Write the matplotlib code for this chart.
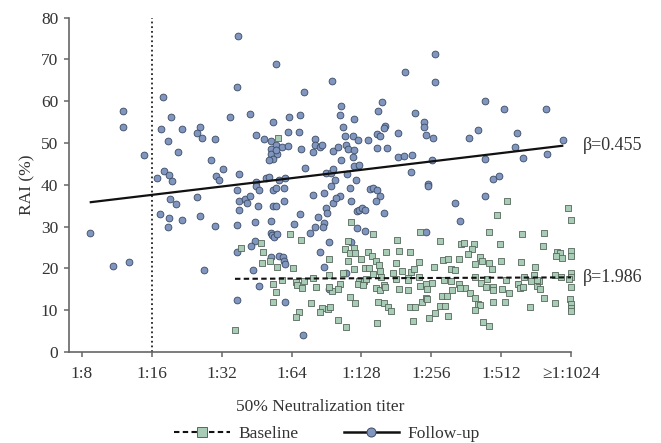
import matplotlib
matplotlib.use("Agg")
import matplotlib.pyplot as plt
from matplotlib.lines import Line2D
import numpy as np

plt.rcParams['font.family'] = ['Liberation Serif', 'DejaVu Serif']

# x values are log2 of the reciprocal titer (3 -> 1:8, 10 -> >=1:1024)
tick_pos = [3, 4, 5, 6, 7, 8, 9, 10]
tick_labels = ['1:8', '1:16', '1:32', '1:64', '1:128', '1:256', '1:512', '\u22651:1024']

fu_x = [3.11, 3.58, 3.58, 3.45, 3.67, 3.89, 4.16, 4.27, 4.13, 4.23, 4.43, 4.69, 4.65, 4.72, 4.37,
        4.18, 4.08, 4.25, 4.29, 4.26, 4.34, 4.65, 4.11, 4.24, 4.43, 4.69, 4.23, 4.74,
        5.24, 5.77, 5.22, 6.58, 6.18, 5.12, 5.40, 5.74, 5.97, 6.12, 4.91, 5.49, 5.61, 5.70,
        5.95, 6.11, 6.33, 6.33, 6.41, 6.43, 6.31, 6.59, 5.78, 5.87, 5.95, 6.13, 5.71, 5.70,
        5.79, 5.77, 5.73, 5.68, 4.85, 5.02, 4.92, 4.96, 5.25, 5.49, 5.63, 5.68, 5.82, 5.91,
        6.19, 6.49, 6.57, 6.60,
        5.49, 5.54, 5.22, 5.73, 5.78, 5.89, 5.25, 5.33, 5.41, 5.36, 5.52, 5.73, 5.77, 5.89,
        5.25, 4.91, 5.22, 5.47, 5.70, 6.04, 6.12, 6.31, 6.47, 6.56, 6.60, 6.49, 6.51, 6.38,
        6.47, 6.45, 6.33, 6.27, 5.70, 5.72, 5.75, 5.79, 6.53, 5.48, 5.42, 5.22, 5.45, 5.70,
        5.82, 5.88, 5.89, 5.91, 6.40, 6.46, 5.54, 6.54, 5.22, 5.90, 6.16,
        8.05, 7.63, 8.06, 7.29, 7.24, 6.71, 6.70, 6.90, 7.76, 7.89, 7.90, 6.74, 7.34, 7.33,
        7.53, 6.76, 6.88, 6.95, 7.10, 7.23, 7.26, 7.92, 8.02, 6.66, 6.78, 6.81, 6.89, 6.88,
        7.23, 7.36, 7.52, 7.61, 7.73, 8.01, 6.71, 6.90, 6.97, 7.71, 6.80, 6.62, 6.92, 7.96,
        6.83, 7.12, 7.17, 7.22, 7.27, 7.21, 6.70, 6.63, 6.85, 6.93, 6.97, 7.01, 7.05, 7.33,
        7.95, 8.34, 8.41, 6.93, 7.05, 7.92, 6.85, 6.78,
        8.77, 9.04, 9.64, 8.67, 8.54, 9.22, 9.89, 9.20, 8.77, 9.31, 9.65, 8.89, 8.97, 8.77]
fu_rai = [28.5, 57.7, 53.7, 20.6, 21.5, 47.1, 60.9, 56.3, 53.3, 50.5, 53.3, 53.7, 52.3, 51.2, 47.8,
          43.4, 41.5, 42.3, 41.0, 36.7, 35.3, 37.0, 32.9, 32.1, 31.6, 32.6, 30.0, 19.5,
          75.5, 68.9, 63.4, 64.8, 62.3, 56.3, 56.9, 55.1, 56.3, 56.7, 50.9, 51.9, 50.9, 50.4,
          52.5, 52.5, 51.0, 49.6, 49.0, 49.5, 47.9, 48.0, 49.5, 49.0, 49.3, 48.6, 48.5, 47.4,
          47.3, 48.2, 46.2, 45.8, 46.0, 43.8, 42.0, 41.1, 42.5, 40.7, 41.6, 41.9, 41.1, 41.6,
          44.0, 42.7, 42.9, 43.7,
          39.7, 38.8, 38.8, 38.8, 39.2, 39.2, 36.1, 36.6, 37.3, 35.6, 34.8, 35.0, 35.0, 36.1,
          34.0, 30.2, 30.3, 31.1, 31.4, 30.7, 32.9, 37.6, 38.1, 39.7, 35.7, 34.5, 33.3, 32.4,
          30.9, 30.0, 29.9, 28.5, 28.5, 28.1, 27.4, 28.2, 26.3, 26.6, 25.4, 23.8, 19.5, 22.8,
          22.9, 22.7, 21.8, 21.1, 23.8, 20.3, 15.7, 15.1, 12.5, 11.9, 4.1,
          71.3, 66.9, 64.5, 59.9, 57.7, 58.9, 56.7, 55.7, 57.2, 54.9, 53.8, 53.7, 54.1, 53.5,
          52.4, 51.7, 51.6, 50.6, 50.6, 52.1, 51.7, 52.0, 51.2, 49.1, 49.6, 48.6, 48.3, 46.7,
          48.9, 48.9, 46.6, 46.9, 47.2, 45.9, 45.8, 44.5, 44.8, 43.1, 42.5, 41.1, 41.2, 40.2,
          39.3, 39.0, 39.2, 38.8, 37.4, 36.1, 37.3, 36.8, 36.0, 33.8, 34.0, 34.4, 34.0, 33.3,
          39.7, 35.6, 31.4, 29.7, 28.9, 28.7, 26.4, 19.0,
          60.0, 58.2, 58.1, 53.0, 51.3, 52.4, 50.8, 49.0, 46.2, 46.3, 47.4, 41.4, 42.2, 37.2]

bl_x = [5.80,
        5.98, 6.13, 5.56, 5.27, 5.59, 5.69, 5.57, 5.79, 6.02, 6.53, 6.53, 6.30, 5.87, 5.74,
        6.07, 6.18, 6.08, 6.15, 6.35, 5.77, 6.58, 6.54, 5.74, 6.28, 6.10, 6.06, 6.43, 6.41,
        6.52, 6.55, 5.19,
        6.85, 7.17, 7.84, 7.51, 8.13, 6.81, 6.77, 6.89, 6.83, 6.91, 7.09, 7.15, 7.00, 6.81,
        7.21, 7.35, 7.54, 7.70, 7.50, 7.83, 8.17, 8.24, 8.39, 6.90, 7.05, 7.11, 7.25, 7.27,
        7.17, 7.28, 7.45, 7.58, 7.71, 7.75, 8.04, 7.83, 7.66, 8.28, 8.34, 6.74, 6.96, 7.03,
        6.95, 7.02, 7.07, 6.69, 6.66, 7.21, 7.26, 7.32, 7.34, 7.49, 7.66, 7.66, 7.54, 7.84,
        7.93, 8.01, 7.94, 8.18, 8.28, 8.16, 8.23, 8.30, 8.39, 6.84, 6.91, 7.24, 7.32, 7.38,
        7.42, 7.70, 7.76, 7.86, 7.93, 7.94, 8.13, 8.20, 8.06, 7.97, 8.24, 6.67, 6.78, 7.23,
        7.74,
        9.09, 9.96, 10.00, 8.94, 8.83, 9.30, 9.62, 8.43, 8.47, 8.61, 8.58, 8.98, 9.60, 8.52,
        8.70, 8.72, 8.82, 8.62, 8.87, 9.00, 9.29, 9.49, 9.80, 9.84, 9.78, 9.87, 10.00, 10.00,
        8.62, 8.80, 9.07, 9.33, 9.47, 9.77, 9.85, 10.00, 10.00, 9.97, 8.48, 8.41, 8.55, 8.71,
        8.79, 8.89, 8.89, 9.01, 9.11, 9.24, 9.27, 9.32, 9.43, 9.52, 9.56, 9.54, 9.51, 10.00,
        8.63, 8.67, 8.70, 8.63, 8.89, 9.06, 9.41, 9.62, 9.77, 9.99, 10.00, 10.00, 10.00, 8.74,
        8.83]
bl_rai = [51.3,
          28.3, 26.7, 26.1, 24.8, 23.8, 21.8, 21.4, 20.3, 20.2, 22.2, 18.3, 17.8, 17.2, 16.3,
          16.7, 16.9, 16.0, 15.2, 15.5, 14.4, 14.6, 15.6, 12.0, 11.6, 9.6, 8.4, 10.5, 9.6,
          10.4, 10.8, 5.3,
          31.1, 28.2, 28.6, 26.8, 26.5, 26.6, 24.7, 24.9, 23.7, 23.7, 24.0, 23.0, 22.2, 21.7,
          21.8, 23.8, 24.2, 23.8, 21.4, 21.6, 22.0, 22.3, 22.3, 19.8, 20.1, 20.1, 20.7, 19.4,
          18.7, 17.9, 19.0, 19.4, 19.1, 19.8, 20.3, 17.9, 17.8, 19.9, 19.5, 19.0, 17.1, 17.0,
          16.2, 16.1, 17.4, 16.2, 15.1, 15.4, 14.8, 16.0, 15.6, 17.4, 17.2, 14.9, 15.1, 15.9,
          16.3, 16.5, 15.1, 17.2, 16.9, 13.5, 13.3, 14.9, 16.3, 13.2, 11.6, 12.0, 11.6, 10.8,
          9.8, 10.7, 10.8, 11.9, 12.9, 12.6, 10.9, 10.9, 9.3, 8.2, 8.6, 7.7, 5.9, 6.9,
          7.3,
          36.2, 34.4, 31.6, 32.7, 28.6, 28.2, 28.5, 25.8, 26.0, 25.8, 24.6, 25.9, 25.3, 23.4,
          22.7, 21.7, 21.2, 21.0, 19.9, 21.8, 21.5, 20.3, 23.9, 23.7, 22.9, 22.4, 24.2, 22.9,
          17.9, 17.5, 17.3, 17.9, 18.3, 18.5, 17.9, 19.0, 17.9, 17.4, 15.4, 15.4, 14.0, 16.5,
          15.5, 15.5, 14.8, 15.1, 14.2, 16.3, 15.4, 15.6, 16.9, 15.9, 15.1, 17.0, 17.3, 15.5,
          12.8, 11.5, 11.2, 10.1, 11.9, 11.9, 10.8, 12.8, 11.6, 12.7, 11.5, 10.6, 9.7, 7.2,
          6.3]

# fitted lines (RAI at the lowest and highest titer of each group)
fu_fit = [35.8, 49.35]
bl_fit = [17.5, 17.85]
fu_beta = '\u03b2=0.455'
bl_beta = '\u03b2=1.986'
threshold = 4  # 1:16

text_col = '#333333'
fu_face, fu_edge = '#8196be', '#3b4a63'
bl_face, bl_edge = '#a9ccb6', '#56685c'

fig = plt.figure(figsize=(6.61, 4.43), dpi=100)
ax = fig.add_axes([69/661, 1-352/443, 502/661, 334.5/443])

ax.scatter(fu_x, fu_rai, s=24, marker='o', facecolor=fu_face, edgecolor=fu_edge,
           linewidths=0.6, zorder=3, clip_on=False)
ax.scatter(bl_x, bl_rai, s=19, marker='s', facecolor=bl_face, edgecolor=bl_edge,
           linewidths=0.6, zorder=3, clip_on=False)

ax.plot([min(fu_x), max(fu_x)], fu_fit, color='#111111', lw=1.6, zorder=4,
        solid_capstyle='butt')
ax.plot([min(bl_x), max(bl_x)], bl_fit, color='#111111', lw=1.5, zorder=4,
        linestyle=(0, (2.6, 1.6)))
ax.plot([threshold, threshold], [0, 80], color='#222222', lw=1.3,
        linestyle=(0, (1, 1.6)), zorder=2)

ax.annotate(fu_beta, xy=(max(tick_pos), fu_fit[1]), xytext=(8.5, 0), textcoords='offset points',
            va='center', ha='left', fontsize=13, color=text_col, annotation_clip=False)
ax.annotate(bl_beta, xy=(max(tick_pos), bl_fit[1]), xytext=(8.5, 0), textcoords='offset points',
            va='center', ha='left', fontsize=13, color=text_col, annotation_clip=False)

ax.set_xlim(2.814, 10)
ax.set_ylim(0, 80)
ax.set_xticks(tick_pos)
ax.set_xticklabels(tick_labels)
ax.set_yticks(range(0, 81, 10))
for s in ['top', 'right']:
    ax.spines[s].set_visible(False)
for s in ['left', 'bottom']:
    ax.spines[s].set_color('#666666')
    ax.spines[s].set_linewidth(1.2)
ax.tick_params(axis='both', direction='out', length=3.8, width=1.1, colors='#666666',
               labelcolor=text_col, labelsize=12.5)
ax.tick_params(axis='x', pad=6)
ax.tick_params(axis='y', pad=4)

ax.set_ylabel('RAI (%)', fontsize=12.5, color=text_col)
ax.yaxis.set_label_coords(-0.066, 0.5)
ax.set_xlabel('50% Neutralization titer', fontsize=12.5, color=text_col)
ax.xaxis.set_label_coords(0.5, -0.142)

handles = [
    Line2D([], [], color='#111111', lw=1.5, linestyle=(0, (2.6, 1.6)), marker='s',
           markersize=6.5, markerfacecolor=bl_face, markeredgecolor=bl_edge, markeredgewidth=0.7),
    Line2D([], [], color='#111111', lw=1.8, marker='o', markersize=6.5,
           markerfacecolor=fu_face, markeredgecolor=fu_edge, markeredgewidth=0.7),
]
fig.legend(handles, ['Baseline', 'Follow-up'], loc='center', ncol=2,
           bbox_to_anchor=(327/661, 1-434/443), frameon=False, fontsize=12.5,
           handlelength=3.2, handletextpad=0.5, columnspacing=2.6, labelcolor=text_col)

fig.savefig('out.png', dpi=100)
